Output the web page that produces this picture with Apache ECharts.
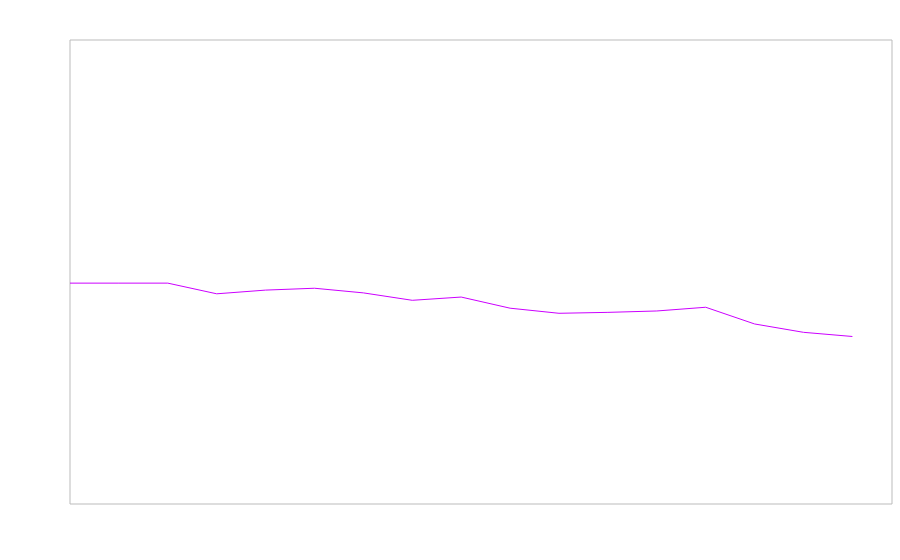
<!DOCTYPE html>
<html><head><meta charset="utf-8">
<script src="https://cdn.jsdelivr.net/npm/echarts@6/dist/echarts.min.js"></script>
<style>html,body{margin:0;padding:0;background:#fff}#c{width:900px;height:560px}</style>
</head><body><div id="c"></div>
<script>
var xIndex = [0,1,2,3,4,5,6,7,8,9,10,11,12,13,14,15,16];
var values = [47.6,47.6,47.6,45.3,46.1,46.5,45.5,43.9,44.6,42.2,41.1,41.3,41.6,42.4,38.8,37.0,36.1];
var xMax = 16.81, yMin = 0, yMax = 100;
var chart = echarts.init(document.getElementById('c'), null, {renderer:'canvas'});
chart.setOption({
  animation:false,
  backgroundColor:'#fff',
  grid:{left:70, top:40, width:822, height:464, show:true, borderColor:'#bbb', borderWidth:1, backgroundColor:'transparent'},
  xAxis:{type:'value', min:0, max:xMax, show:false},
  yAxis:{type:'value', min:yMin, max:yMax, show:false},
  series:[{type:'line', data:xIndex.map(function(x,i){return [x, values[i]];}), showSymbol:false, lineStyle:{color:'#cc00ff', width:1}, itemStyle:{color:'#cc00ff'}}]
});
</script></body></html>
